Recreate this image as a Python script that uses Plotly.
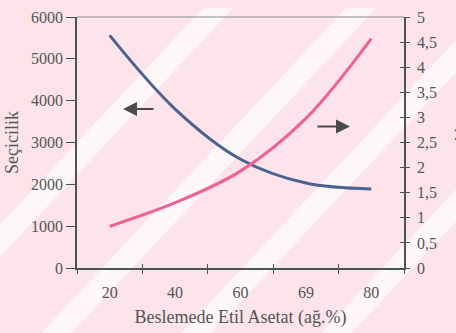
import plotly.graph_objects as go

# ---- data ----
categories = ["20", "40", "60", "69", "80"]
secicilik = [5560, 3800, 2600, 2030, 1890]      # left axis
aki = [0.83, 1.30, 1.93, 2.98, 4.57]            # right axis
y2_tickvals = [0, 0.5, 1, 1.5, 2, 2.5, 3, 3.5, 4, 4.5, 5]
y2_ticktext = ["0", "0,5", "1", "1,5", "2", "2,5", "3", "3,5", "4", "4,5", "5"]

W, H = 456, 333
L, R, T, B = 77, 404, 9, 268


def px(x):
    return (x - L) / (R - L)


def py(y):
    return (B - y) / (B - T)


fig = go.Figure()
fig.add_trace(go.Scatter(x=categories, y=secicilik, mode="lines",
                         line=dict(color="#4c6391", width=3, shape="spline", smoothing=1),
                         xaxis="x", yaxis="y", showlegend=False, hoverinfo="skip"))
fig.add_trace(go.Scatter(x=categories, y=aki, mode="lines",
                         line=dict(color="#ef5f98", width=3, shape="spline", smoothing=1),
                         xaxis="x2", yaxis="y2", showlegend=False, hoverinfo="skip"))
fig.add_trace(go.Scatter(x=categories, y=[None] * len(categories), mode="lines",
                         xaxis="x", yaxis="y3", showlegend=False, hoverinfo="skip"))

# background watermark stripes (white diagonal bands)
shapes = []
slope = 1.1
half = 15
for cx_top in [218, 361, 501, 641]:
    pts = [(cx_top - half, 0), (cx_top + half, 0)]
    xb1 = cx_top + half - 340 / slope
    xb0 = cx_top - half - 340 / slope
    pts += [(xb1, 340), (xb0, 340)]
    path = "M " + " L ".join(f"{px(a):.4f},{py(b):.4f}" for a, b in pts) + " Z"
    shapes.append(dict(type="path", path=path, xref="paper", yref="paper",
                       fillcolor="rgba(255,255,255,0.7)", line=dict(width=0), layer="below"))
# top frame line
shapes.append(dict(type="line", xref="paper", yref="paper", x0=0, x1=1, y0=1, y1=1,
                   line=dict(color="#8a8f8f", width=1)))

axis_col = "#4a5654"
font_col = "#555555"
serif = "Liberation Serif, Times New Roman, serif"
fig.update_layout(
    width=W, height=H,
    margin=dict(l=L, r=W - R, t=T, b=H - B),
    paper_bgcolor="#fce4ea", plot_bgcolor="rgba(0,0,0,0)",
    font=dict(family=serif, color=font_col, size=16),
    shapes=shapes,
    xaxis=dict(type="category", categoryorder="array", categoryarray=categories,
               range=[-0.5, 4.5], tickson="boundaries", ticks="outside", ticklen=4,
               tickcolor=axis_col, showline=True, linecolor=axis_col, linewidth=1.5,
               showgrid=False, zeroline=False, ticklabelstandoff=9,
               tickfont=dict(family=serif, size=16, color=font_col),
               title=dict(text="Beslemede Etil Asetat (ağ.%)",
                          font=dict(family=serif, size=18, color=font_col), standoff=10)),
    xaxis2=dict(type="category", categoryorder="array", categoryarray=categories,
                range=[-0.5, 4.5], tickson="boundaries", ticks="inside", ticklen=4,
                tickcolor=axis_col, overlaying="x", anchor="y", side="bottom",
                showline=False, showgrid=False, zeroline=False, showticklabels=False),
    yaxis=dict(range=[0, 6000], dtick=1000, ticks="outside", ticklen=9, tickcolor=axis_col,
               showline=True, linecolor=axis_col, linewidth=1.5, showgrid=False, zeroline=False,
               tickfont=dict(family=serif, size=16, color=font_col),
               title=dict(text="Seçicilik", font=dict(family=serif, size=18, color=font_col),
                          standoff=8)),
    yaxis2=dict(range=[0, 5], tickvals=y2_tickvals, ticktext=y2_ticktext, overlaying="y",
                side="right", anchor="x", ticks="outside", ticklen=4, tickcolor=axis_col,
                showline=True, linecolor=axis_col, linewidth=1.5, showgrid=False, zeroline=False,
                ticklabelstandoff=4, tickfont=dict(family=serif, size=16, color=font_col)),
    yaxis3=dict(range=[0, 5], tickvals=y2_tickvals, overlaying="y", side="right", anchor="x",
                ticks="inside", ticklen=4, tickcolor=axis_col, showline=False, showgrid=False,
                zeroline=False, showticklabels=False),
    annotations=[
        dict(x=px(123), y=py(104), xref="paper", yref="paper", ax=32, ay=0,
             showarrow=True, arrowhead=2, arrowsize=1.4, arrowwidth=2, arrowcolor="#4a4a4a", text=""),
        dict(x=px(350), y=py(122), xref="paper", yref="paper", ax=-34, ay=0,
             showarrow=True, arrowhead=2, arrowsize=1.4, arrowwidth=2, arrowcolor="#4a4a4a", text=""),
        dict(x=px(450), y=py(128), xref="paper", yref="paper", text="Akı", textangle=-90,
             showarrow=False, xanchor="left", yanchor="middle",
             font=dict(family=serif, size=18, color=font_col)),
    ],
)

fig.write_html("out.html")
